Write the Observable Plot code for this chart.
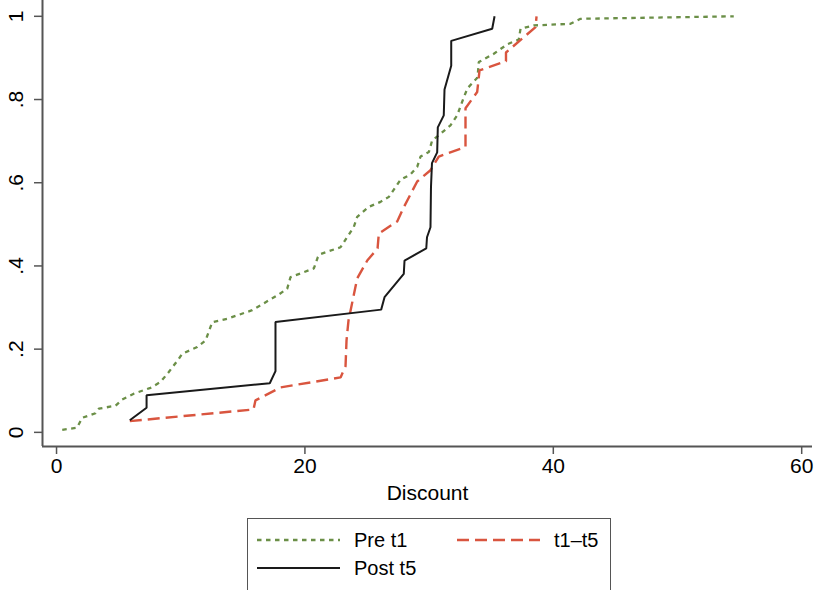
<!DOCTYPE html>
<html>
<head>
<meta charset="utf-8">
<script src="https://cdn.jsdelivr.net/npm/d3@7"></script>
<script src="https://cdn.jsdelivr.net/npm/@observablehq/plot@0.6"></script>
<style>
  html, body { margin: 0; padding: 0; background: #fff; overflow: hidden; }
  #wrap { position: relative; width: 814px; height: 590px; font-family: "Liberation Sans", Arial, Helvetica, sans-serif; }
  #legend { position: absolute; left: 247px; top: 518px; width: 364px; height: 90px; border: 1.5px solid #555; box-sizing: border-box; background: #fff; }
</style>
</head>
<body>
<div id="wrap"></div>
<script>
// ---- data ----
const seriesNames = ["Pre t1", "t1\u2013t5", "Post t5"];

const preX = [0.46, 1.65, 2.07, 3.14, 3.41, 4.75, 5.29, 6.22, 7.57, 8.37, 9.04, 9.85, 10.12, 11.33, 12.00, 12.54, 13.74, 15.70, 17.77, 18.57, 18.84, 20.72, 21.04, 21.20, 22.87, 23.94, 24.21, 25.14, 26.09, 26.76, 27.70, 28.50, 29.04, 29.31, 29.98, 30.25, 30.78, 31.72, 32.26, 32.79, 33.09, 33.90, 34.00, 35.21, 36.31, 37.22, 37.36, 38.43, 41.38, 42.19, 54.53];
const preY = [0.006, 0.011, 0.035, 0.046, 0.057, 0.064, 0.079, 0.093, 0.107, 0.121, 0.145, 0.177, 0.189, 0.205, 0.221, 0.265, 0.273, 0.293, 0.329, 0.345, 0.373, 0.394, 0.421, 0.428, 0.445, 0.494, 0.518, 0.542, 0.554, 0.566, 0.607, 0.620, 0.638, 0.663, 0.674, 0.702, 0.714, 0.738, 0.762, 0.805, 0.827, 0.853, 0.890, 0.910, 0.933, 0.944, 0.970, 0.978, 0.982, 0.994, 1.0];

const midX = [5.90, 15.86, 16.02, 18.04, 22.87, 23.27, 23.35, 23.51, 24.21, 25.02, 25.85, 25.95, 27.43, 27.96, 29.04, 30.11, 30.78, 32.93, 32.93, 33.87, 34.06, 36.19, 36.19, 38.57, 38.65];
const midY = [0.027, 0.055, 0.077, 0.108, 0.132, 0.159, 0.221, 0.269, 0.370, 0.413, 0.442, 0.478, 0.507, 0.541, 0.603, 0.630, 0.663, 0.686, 0.779, 0.818, 0.870, 0.892, 0.913, 0.974, 1.0];

const postX = [5.90, 7.25, 7.25, 17.17, 17.63, 17.63, 26.14, 26.41, 27.96, 28.02, 29.77, 29.83, 30.11, 30.15, 30.23, 30.65, 30.70, 31.18, 31.24, 31.78, 31.78, 35.08, 35.27];
const postY = [0.029, 0.059, 0.089, 0.118, 0.147, 0.265, 0.295, 0.325, 0.381, 0.413, 0.442, 0.469, 0.493, 0.589, 0.647, 0.673, 0.733, 0.762, 0.824, 0.881, 0.941, 0.970, 1.0];

const xTicks = [0, 20, 40, 60];
const yTicks = [0, 0.2, 0.4, 0.6, 0.8, 1];
const yTickLabels = ["0", ".2", ".4", ".6", ".8", "1"];
const xLabel = "Discount";

// ---- styles ----
const colors = ["#6b8f47", "#d9553f", "#1a1a1a"];
const dashes = ["4.5,4.5", "12,6", null];
const widths = [2.3, 2.4, 2];

const toRows = (xs, ys) => xs.map((x, i) => ({x, y: ys[i]}));
const rows = [toRows(preX, preY), toRows(midX, midY), toRows(postX, postY)];

const xDomain = [-1.13, 60.87];
const yDomain = [-0.034, 1.038];
const axisColor = "#555";
const fontStack = '"Liberation Sans", Arial, Helvetica, sans-serif';

const chart = Plot.plot({
  width: 814,
  height: 510,
  marginLeft: 42,
  marginRight: 2,
  marginTop: 0,
  marginBottom: 64,
  style: {fontFamily: fontStack, fontSize: "21px", color: "#000", background: "#fff"},
  x: {domain: xDomain},
  y: {domain: yDomain},
  marks: [
    Plot.ruleY([yDomain[0]], {stroke: axisColor, strokeWidth: 2}),
    Plot.ruleX([xDomain[0]], {stroke: axisColor, strokeWidth: 2}),
    Plot.axisX({ticks: xTicks, tickSize: 8, tickPadding: 4, stroke: axisColor, strokeWidth: 1.5, label: null}),
    Plot.axisY({ticks: yTicks, tickSize: 8, tickFormat: () => "", stroke: axisColor, strokeWidth: 1.5, label: null}),
    Plot.text(yTicks, {y: d => d, text: (d, i) => yTickLabels[i], frameAnchor: "left", dx: -26, rotate: -90, textAnchor: "middle", lineAnchor: "middle", fill: "#000"}),
    Plot.text([xLabel], {frameAnchor: "bottom", dy: 47, lineAnchor: "middle", textAnchor: "middle", fill: "#000"}),
    ...rows.map((r, i) => Plot.line(r, {x: "x", y: "y", stroke: colors[i], strokeWidth: widths[i], strokeDasharray: dashes[i] ?? undefined, strokeLinejoin: "miter", strokeLinecap: "butt"}))
  ]
});

const wrap = document.getElementById("wrap");
wrap.appendChild(chart);

// ---- legend below the chart ----
const legend = document.createElement("div");
legend.id = "legend";
const ns = "http://www.w3.org/2000/svg";
const lsvg = document.createElementNS(ns, "svg");
lsvg.setAttribute("width", 364);
lsvg.setAttribute("height", 90);
lsvg.style.fontFamily = fontStack;
lsvg.style.fontSize = "20px";
const entries = [
  {i: 0, lx: 9, ly: 21},
  {i: 1, lx: 209, ly: 21},
  {i: 2, lx: 9, ly: 49}
];
for (const e of entries) {
  const line = document.createElementNS(ns, "line");
  line.setAttribute("x1", e.lx);
  line.setAttribute("x2", e.lx + 83);
  line.setAttribute("y1", e.ly);
  line.setAttribute("y2", e.ly);
  line.setAttribute("stroke", colors[e.i]);
  line.setAttribute("stroke-width", widths[e.i]);
  if (dashes[e.i]) line.setAttribute("stroke-dasharray", dashes[e.i]);
  lsvg.appendChild(line);
  const t = document.createElementNS(ns, "text");
  t.setAttribute("x", e.lx + 97);
  t.setAttribute("y", e.ly + 7);
  t.setAttribute("fill", "#000");
  t.textContent = seriesNames[e.i];
  lsvg.appendChild(t);
}
legend.appendChild(lsvg);
wrap.appendChild(legend);
</script>
</body>
</html>
